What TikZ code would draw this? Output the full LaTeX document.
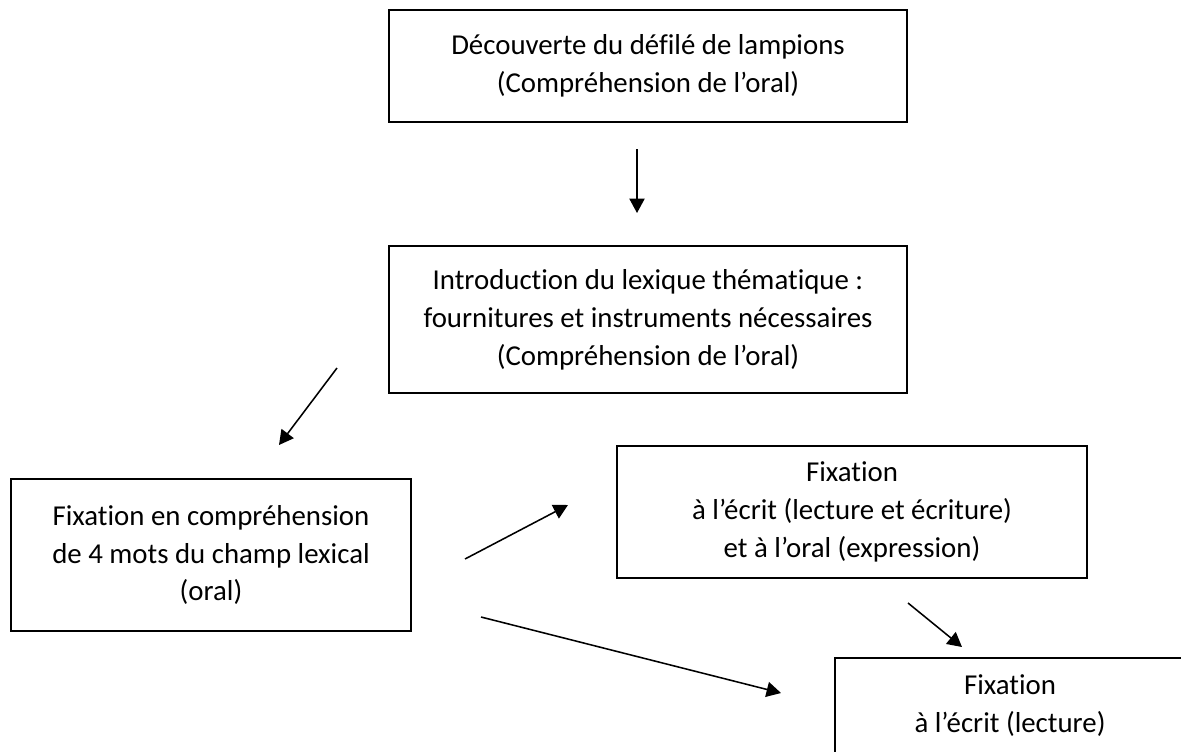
\documentclass[tikz,border=0pt]{standalone}
\usepackage{fontspec}
\setmainfont{Carlito}[Ligatures=NoCommon]
\usetikzlibrary{arrows.meta}

\begin{document}
\begin{tikzpicture}[x=0.025cm, y=-0.025cm, line width=1.1pt,
  box/.style={draw, align=center, inner sep=0pt, font=\fontsize{20.5}{27}\selectfont},
  >={Triangle[length=0.36cm, width=0.38cm]}]
\useasboundingbox (0,0) rectangle (1181,751);

\node [box, minimum width=12.95cm, minimum height=2.8cm] (b1) at (648,66) {Découverte du défilé de lampions\\(Compréhension de l’oral)};
\node [box, minimum width=12.95cm, minimum height=3.675cm] (b2) at (648,319.5) {Introduction du lexique thématique :\\fournitures et instruments nécessaires\\(Compréhension de l’oral)};
\node [box, minimum width=10cm, minimum height=3.8cm] (b3) at (211,555) {Fixation en compréhension\\de 4 mots du champ lexical\\(oral)};
\node [box, minimum width=11.75cm, minimum height=3.3cm] (b4) at (852,512) {Fixation\\à l’écrit (lecture et écriture)\\et à l’oral (expression)};
\node [box, minimum width=8.75cm, minimum height=2.4cm] (b5) at (1010,706) {Fixation\\à l’écrit (lecture)};

\coordinate (c1) at (637,149);
\coordinate (c2) at (637,213);
\coordinate (c3) at (337,368);
\coordinate (c4) at (279,445);
\coordinate (c5) at (465,559);
\coordinate (c6) at (568,505);
\coordinate (c7) at (481,617);
\coordinate (c8) at (781,693);
\coordinate (c9) at (908,603);
\coordinate (c10) at (962,647);

\draw[->] (c1) -- (c2);
\draw[->] (c3) -- (c4);
\draw[->] (c5) -- (c6);
\draw[->] (c7) -- (c8);
\draw[->] (c9) -- (c10);

\end{tikzpicture}
\end{document}
